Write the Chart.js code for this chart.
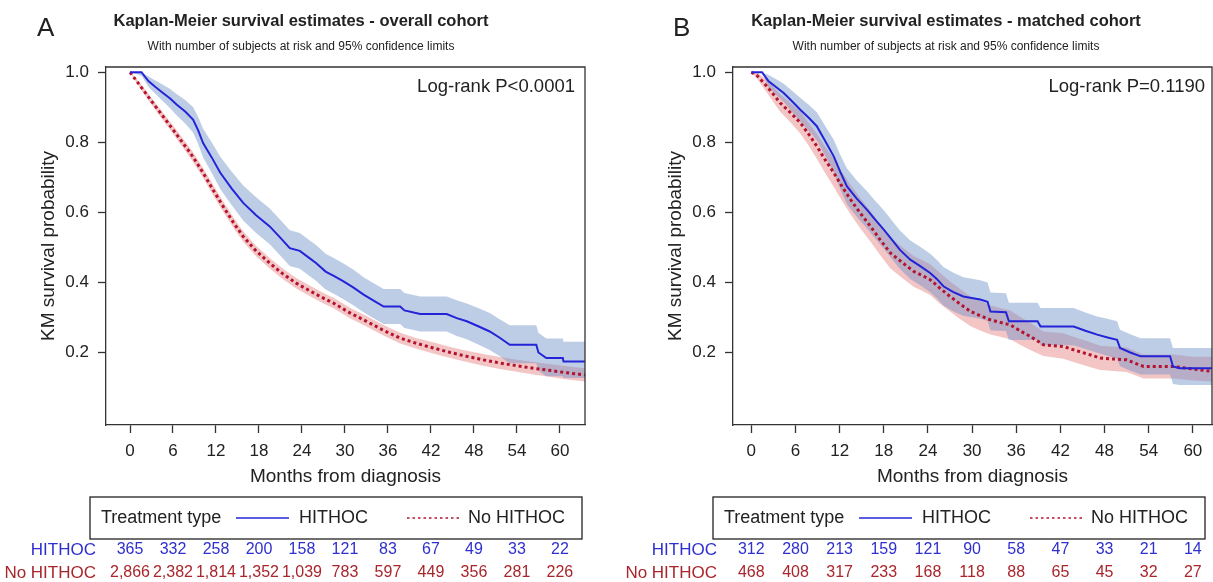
<!DOCTYPE html>
<html lang="en">
<head>
    <meta charset="UTF-8">
    <title>Kaplan-Meier survival estimates</title>
    <style>
        body {
            margin: 0;
            background: #fff;
            overflow: hidden;
        }
        #wrap {
            position: relative;
            width: 1213px;
            height: 582px;
        }
        canvas {
            position: absolute;
            top: 0;
        }
        #panelA { left: 0; }
        #panelB { left: 606px; }
    </style>
</head>
<body>
    <div id="wrap">
        <canvas id="panelA" width="606" height="582"></canvas>
        <canvas id="panelB" width="607" height="582"></canvas>
    </div>

    <script src="https://cdn.jsdelivr.net/npm/chart.js"></script>
    <script>
        // ticks and risk-table columns
        const xTicks = [0, 6, 12, 18, 24, 30, 36, 42, 48, 54, 60];
        const yTicks = [0.2, 0.4, 0.6, 0.8, 1.0];
        const groupNames = ['HITHOC', 'No HITHOC'];

        // Panel A - overall cohort, HITHOC
        const aHitTime = [0, 1.6, 2.6, 3.6, 4.6, 5.6, 6.5, 7.7, 8.8, 9.5, 10.2, 11.4, 12.6, 14.2, 15.8, 17.6, 19.5, 21.0, 22.3, 23.7, 25.0, 26.0, 27.3, 28.5, 29.8, 31.2, 32.6, 34.0, 35.4, 37.7, 38.3, 40.5, 44.2, 45.6, 47.0, 48.6, 50.2, 51.6, 53.0, 56.7, 57.0, 58.1, 60.4, 60.5, 63.5];
        const aHitSurv = [1.0, 1.0, 0.974, 0.957, 0.941, 0.925, 0.908, 0.888, 0.865, 0.835, 0.798, 0.757, 0.713, 0.668, 0.627, 0.592, 0.56, 0.527, 0.498, 0.49, 0.47, 0.455, 0.431, 0.418, 0.403, 0.385, 0.365, 0.348, 0.331, 0.331, 0.32, 0.31, 0.31, 0.298, 0.289, 0.275, 0.26, 0.242, 0.222, 0.222, 0.2, 0.184, 0.184, 0.174, 0.174];
        const aHitLow = [1.0, 0.99, 0.958, 0.937, 0.917, 0.897, 0.877, 0.854, 0.828, 0.796, 0.757, 0.713, 0.667, 0.62, 0.577, 0.541, 0.509, 0.476, 0.447, 0.439, 0.419, 0.404, 0.38, 0.367, 0.352, 0.334, 0.315, 0.298, 0.281, 0.281, 0.27, 0.26, 0.26, 0.247, 0.238, 0.223, 0.207, 0.189, 0.169, 0.169, 0.148, 0.132, 0.132, 0.127, 0.127];
        const aHitHigh = [1.0, 1.0, 0.988, 0.976, 0.964, 0.952, 0.938, 0.921, 0.901, 0.873, 0.839, 0.8, 0.759, 0.716, 0.677, 0.643, 0.611, 0.578, 0.549, 0.541, 0.521, 0.506, 0.482, 0.469, 0.454, 0.436, 0.415, 0.398, 0.381, 0.381, 0.37, 0.36, 0.36, 0.349, 0.34, 0.327, 0.313, 0.295, 0.278, 0.278, 0.256, 0.24, 0.24, 0.231, 0.231];

        // Panel A - overall cohort, No HITHOC
        const aNoTime = [0, 1, 2.3, 3.5, 4.65, 6.05, 7.2, 8.4, 9.3, 10.2, 11.6, 13.0, 14.4, 15.8, 17.6, 19.5, 21.3, 23.2, 25.0, 27.0, 28.4, 30.7, 33.0, 35.3, 37.7, 40.0, 42.3, 44.7, 47.0, 49.3, 51.6, 54.0, 56.3, 58.5, 61.0, 63.5];
        const aNoSurv = [1.0, 0.973, 0.937, 0.904, 0.873, 0.835, 0.803, 0.77, 0.742, 0.713, 0.664, 0.617, 0.572, 0.531, 0.49, 0.455, 0.425, 0.398, 0.377, 0.355, 0.341, 0.313, 0.289, 0.264, 0.241, 0.226, 0.213, 0.2, 0.189, 0.179, 0.17, 0.162, 0.155, 0.149, 0.142, 0.136];
        const aNoLow = [1.0, 0.967, 0.928, 0.894, 0.862, 0.823, 0.79, 0.756, 0.728, 0.699, 0.649, 0.602, 0.557, 0.516, 0.475, 0.44, 0.41, 0.383, 0.362, 0.34, 0.326, 0.298, 0.274, 0.249, 0.226, 0.211, 0.197, 0.184, 0.173, 0.162, 0.153, 0.145, 0.137, 0.131, 0.123, 0.117];
        const aNoHigh = [1.0, 0.979, 0.946, 0.914, 0.884, 0.847, 0.816, 0.784, 0.756, 0.727, 0.679, 0.632, 0.587, 0.546, 0.505, 0.47, 0.44, 0.413, 0.392, 0.37, 0.356, 0.328, 0.304, 0.279, 0.256, 0.241, 0.229, 0.216, 0.205, 0.196, 0.187, 0.179, 0.173, 0.167, 0.161, 0.155];

        // Panel B - matched cohort, HITHOC
        const bHitTime = [0, 1.45, 2.35, 3.4, 4.4, 5.5, 6.65, 7.8, 8.9, 10.0, 11.2, 12.1, 13.0, 14.3, 15.7, 16.8, 18.0, 19.1, 20.2, 21.6, 23.0, 24.3, 25.2, 26.1, 27.4, 28.8, 31.1, 32.1, 32.5, 34.6, 35.0, 38.9, 39.3, 43.8, 45.4, 47.0, 48.4, 49.7, 50.1, 51.5, 52.9, 56.9, 57.3, 58.2, 62.6];
        const bHitSurv = [1.0, 1.0, 0.974, 0.957, 0.941, 0.918, 0.893, 0.87, 0.846, 0.805, 0.76, 0.715, 0.674, 0.64, 0.608, 0.58, 0.551, 0.522, 0.493, 0.465, 0.446, 0.427, 0.41, 0.389, 0.373, 0.36, 0.351, 0.345, 0.317, 0.315, 0.289, 0.289, 0.274, 0.274, 0.262, 0.251, 0.243, 0.236, 0.213, 0.2, 0.189, 0.189, 0.16, 0.155, 0.155];
        const bHitLow = [1.0, 1.0, 0.956, 0.934, 0.915, 0.888, 0.859, 0.833, 0.806, 0.762, 0.713, 0.666, 0.623, 0.588, 0.555, 0.526, 0.496, 0.467, 0.438, 0.41, 0.391, 0.372, 0.355, 0.334, 0.318, 0.305, 0.296, 0.29, 0.263, 0.261, 0.236, 0.236, 0.221, 0.221, 0.21, 0.199, 0.19, 0.183, 0.161, 0.148, 0.137, 0.137, 0.11, 0.107, 0.107];
        const bHitHigh = [1.0, 1.0, 0.992, 0.98, 0.967, 0.948, 0.927, 0.907, 0.886, 0.848, 0.807, 0.764, 0.725, 0.692, 0.661, 0.634, 0.606, 0.577, 0.548, 0.52, 0.501, 0.482, 0.465, 0.444, 0.428, 0.415, 0.406, 0.4, 0.371, 0.369, 0.342, 0.342, 0.327, 0.327, 0.314, 0.303, 0.296, 0.289, 0.265, 0.252, 0.241, 0.241, 0.213, 0.213, 0.213];

        // Panel B - matched cohort, No HITHOC
        const bNoTime = [0, 0.8, 2.1, 3.0, 3.9, 5.3, 6.65, 7.8, 8.9, 10.0, 11.2, 12.3, 13.5, 14.8, 16.2, 17.5, 18.9, 20.5, 22.1, 23.2, 24.3, 25.6, 27.0, 28.4, 29.8, 31.1, 32.5, 33.8, 35.2, 36.5, 37.9, 39.7, 42.4, 44.2, 46.1, 47.4, 51.0, 53.3, 57.4, 60.0, 62.6];
        const bNoSurv = [1.0, 0.99, 0.96, 0.937, 0.913, 0.885, 0.856, 0.823, 0.789, 0.751, 0.713, 0.675, 0.636, 0.598, 0.56, 0.522, 0.484, 0.457, 0.431, 0.42, 0.408, 0.384, 0.36, 0.338, 0.317, 0.305, 0.293, 0.286, 0.279, 0.262, 0.246, 0.222, 0.217, 0.205, 0.193, 0.184, 0.179, 0.16, 0.16, 0.153, 0.146];
        const bNoLow = [1.0, 0.981, 0.942, 0.915, 0.888, 0.857, 0.825, 0.79, 0.753, 0.713, 0.673, 0.634, 0.594, 0.555, 0.516, 0.478, 0.44, 0.413, 0.387, 0.376, 0.364, 0.34, 0.317, 0.295, 0.275, 0.263, 0.251, 0.245, 0.238, 0.222, 0.207, 0.19, 0.182, 0.17, 0.158, 0.15, 0.144, 0.126, 0.126, 0.12, 0.117];
        const bNoHigh = [1.0, 0.999, 0.978, 0.959, 0.938, 0.913, 0.887, 0.856, 0.825, 0.789, 0.753, 0.716, 0.678, 0.641, 0.604, 0.566, 0.528, 0.501, 0.475, 0.464, 0.452, 0.428, 0.403, 0.381, 0.359, 0.347, 0.335, 0.327, 0.32, 0.302, 0.285, 0.26, 0.255, 0.242, 0.229, 0.219, 0.214, 0.194, 0.194, 0.188, 0.188];

        // numbers at risk at each x tick
        const aRiskHit = ['365', '332', '258', '200', '158', '121', '83', '67', '49', '33', '22'];
        const aRiskNo = ['2,866', '2,382', '1,814', '1,352', '1,039', '783', '597', '449', '356', '281', '226'];
        const bRiskHit = ['312', '280', '213', '159', '121', '90', '58', '47', '33', '21', '14'];
        const bRiskNo = ['468', '408', '317', '233', '168', '118', '88', '65', '45', '32', '27'];

        const FONT = '"Liberation Sans", Arial, Helvetica, sans-serif';
        const BLUE = '#2323d8';
        const RED = '#b3132f';
        const BLUE_TXT = '#2f2fd0';
        const RED_TXT = '#a8262c';
        const INK = '#222';

        Chart.defaults.font.family = FONT;
        Chart.defaults.color = INK;

        function pts(t, v) {
            return t.map((x, i) => ({ x: x, y: v[i] }));
        }

        // frame, headings, legend box and risk table for one panel
        function decor(p) {
            return {
                id: 'decor',
                afterDraw(chart) {
                    const ctx = chart.ctx;
                    const a = chart.chartArea;
                    const xs = chart.scales.x;
                    ctx.save();

                    ctx.strokeStyle = '#333';
                    ctx.lineWidth = 1.3;
                    ctx.beginPath();
                    ctx.moveTo(a.left, a.top);
                    ctx.lineTo(a.right, a.top);
                    ctx.lineTo(a.right, a.bottom);
                    ctx.stroke();

                    ctx.fillStyle = INK;
                    ctx.textAlign = 'left';
                    ctx.textBaseline = 'alphabetic';
                    ctx.font = '26px ' + FONT;
                    ctx.fillText(p.letter, p.letterX, 36);

                    ctx.textAlign = 'center';
                    ctx.textBaseline = 'middle';
                    ctx.font = 'bold 16.5px ' + FONT;
                    ctx.fillText(p.title, p.titleX, 21);
                    ctx.font = '12px ' + FONT;
                    ctx.fillText('With number of subjects at risk and 95% confidence limits', p.titleX, 47);

                    ctx.textAlign = 'right';
                    ctx.font = '18.5px ' + FONT;
                    ctx.fillText(p.pText, p.pX, 87);

                    // legend box
                    const L = p.legendX, T = 497;
                    ctx.lineWidth = 1.3;
                    ctx.strokeStyle = '#222';
                    ctx.strokeRect(L, T, 492, 42);
                    ctx.textAlign = 'left';
                    ctx.font = '18px ' + FONT;
                    ctx.fillText('Treatment type', L + 11, 518);
                    ctx.strokeStyle = BLUE;
                    ctx.lineWidth = 1.6;
                    ctx.beginPath();
                    ctx.moveTo(L + 146, 518);
                    ctx.lineTo(L + 199, 518);
                    ctx.stroke();
                    ctx.fillText(groupNames[0], L + 209, 518);
                    ctx.strokeStyle = RED;
                    ctx.setLineDash([2.5, 3]);
                    ctx.beginPath();
                    ctx.moveTo(L + 317, 518);
                    ctx.lineTo(L + 369, 518);
                    ctx.stroke();
                    ctx.setLineDash([]);
                    ctx.fillText(groupNames[1], L + 378, 518);

                    // risk table
                    const rows = [[groupNames[0], p.riskHit, BLUE_TXT, 550], [groupNames[1], p.riskNo, RED_TXT, 573]];
                    rows.forEach(r => {
                        ctx.fillStyle = r[2];
                        ctx.font = '17px ' + FONT;
                        ctx.textAlign = 'right';
                        ctx.fillText(r[0], p.tableX, r[3]);
                        ctx.font = '16px ' + FONT;
                        ctx.textAlign = 'center';
                        r[1].forEach((n, i) => {
                            ctx.fillText(n, xs.getPixelForValue(xTicks[i]), r[3]);
                        });
                    });
                    ctx.restore();
                }
            };
        }

        function makePanel(id, p) {
            const band = (t, lo, hi, color) => [
                { data: pts(t, hi), borderColor: 'rgba(0,0,0,0)', borderWidth: 0, pointRadius: 0, fill: '+1', backgroundColor: color },
                { data: pts(t, lo), borderColor: 'rgba(0,0,0,0)', borderWidth: 0, pointRadius: 0, fill: false }
            ];
            new Chart(document.getElementById(id), {
                type: 'line',
                data: {
                    datasets: [
                        { label: groupNames[0], data: pts(p.hit[0], p.hit[1]), borderColor: BLUE, borderWidth: 2, pointRadius: 0, fill: false },
                        { label: groupNames[1], data: pts(p.no[0], p.no[1]), borderColor: RED, borderWidth: 3, borderDash: [3, 3], borderCapStyle: 'butt', pointRadius: 0, fill: false }
                    ].concat(
                        band(p.hit[0], p.hit[2], p.hit[3], 'rgba(110,145,200,0.45)'),
                        band(p.no[0], p.no[2], p.no[3], 'rgba(225,110,110,0.4)')
                    )
                },
                options: {
                    responsive: false,
                    animation: false,
                    layout: { padding: { top: 67, right: p.padRight, bottom: 94, left: p.padLeft } },
                    plugins: {
                        legend: { display: false },
                        tooltip: { enabled: false }
                    },
                    scales: {
                        x: {
                            type: 'linear',
                            min: p.xMin,
                            max: p.xMax,
                            afterBuildTicks: s => { s.ticks = xTicks.map(v => ({ value: v })); },
                            afterFit: s => { s.height = 63; },
                            grid: { drawOnChartArea: false, drawTicks: true, tickLength: 8, tickColor: '#333', tickWidth: 1.3 },
                            border: { display: true, color: '#333', width: 1.3 },
                            ticks: { color: INK, font: { size: 17 }, padding: 8, maxRotation: 0, autoSkip: false },
                            title: { display: true, text: 'Months from diagnosis', color: INK, font: { size: 19 }, padding: 0 }
                        },
                        y: {
                            min: -0.007,
                            max: 1.015,
                            afterBuildTicks: s => { s.ticks = yTicks.map(v => ({ value: v })); },
                            afterFit: s => { s.width = 69; },
                            grid: { drawOnChartArea: false, drawTicks: true, tickLength: 8, tickColor: '#333', tickWidth: 1.3 },
                            border: { display: true, color: '#333', width: 1.3 },
                            ticks: { color: INK, font: { size: 17 }, padding: 9, callback: v => v.toFixed(1) },
                            title: { display: true, text: 'KM survival probability', color: INK, font: { size: 19 }, padding: 0 }
                        }
                    }
                },
                plugins: [decor(p)]
            });
        }

        makePanel('panelA', {
            letter: 'A', letterX: 37, titleX: 301,
            title: 'Kaplan-Meier survival estimates - overall cohort',
            pText: 'Log-rank P<0.0001', pX: 575,
            legendX: 90, tableX: 96,
            riskHit: aRiskHit, riskNo: aRiskNo,
            hit: [aHitTime, aHitSurv, aHitLow, aHitHigh],
            no: [aNoTime, aNoSurv, aNoLow, aNoHigh],
            xMin: -3.35, xMax: 63.5,
            padLeft: 37, padRight: 21
        });

        makePanel('panelB', {
            letter: 'B', letterX: 67, titleX: 340,
            title: 'Kaplan-Meier survival estimates - matched cohort',
            pText: 'Log-rank P=0.1190', pX: 599,
            legendX: 107, tableX: 111,
            riskHit: bRiskHit, riskNo: bRiskNo,
            hit: [bHitTime, bHitSurv, bHitLow, bHitHigh],
            no: [bNoTime, bNoSurv, bNoLow, bNoHigh],
            xMin: -2.49, xMax: 62.6,
            padLeft: 58, padRight: 1
        });
    </script>
</body>
</html>
